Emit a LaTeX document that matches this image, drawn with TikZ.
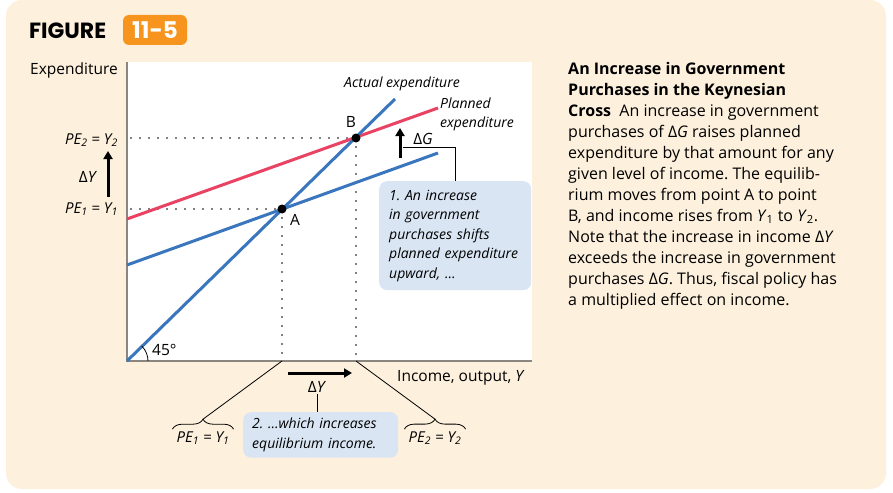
\documentclass[tikz,border=0pt]{standalone}
\usepackage{fontspec}
\setmainfont{Open Sans}
\newfontfamily\figfont{Poppins}
\usetikzlibrary{arrows.meta,decorations.pathreplacing}
\definecolor{cream}{RGB}{253,240,221}
\definecolor{figorange}{RGB}{247,148,29}
\definecolor{crossblue}{RGB}{58,118,189}
\definecolor{crossred}{RGB}{233,66,98}
\definecolor{notefill}{RGB}{217,229,243}
\definecolor{axisgrey}{RGB}{140,134,128}
\def\peeq#1{\textit{PE}\textsubscript{#1} = \textit{Y}\textsubscript{#1}}
\frenchspacing

\begin{document}
\begin{tikzpicture}[x=1pt,y=-1pt,
	curve/.style={line width=3pt},
	dots/.style={line width=1.7pt, dash pattern=on 0pt off 9pt, line cap=round},
	bigarrow/.style={line width=3pt, -{Triangle[length=8pt,width=9pt]}},
	leader/.style={line width=0.8pt},
	notebox/.style={fill=notefill, rounded corners=8pt, align=left, anchor=north west,
		font=\fontsize{14}{19.5}\selectfont\itshape},
	lbl/.style={font=\fontsize{15}{17}\selectfont\itshape, inner sep=1pt},
	axlbl/.style={font=\fontsize{15.5}{17}\selectfont, inner sep=1pt}]
		%%%%% START %%%%%
		\useasboundingbox (0,0) rectangle (893,492);
		\fill[cream, rounded corners=16pt] (6,0) rectangle (886,489);
		
		\node[font=\figfont\fontsize{22}{22}\selectfont\bfseries, anchor=west, inner sep=0pt] (figword) at (29,31) {FIGURE};
		\node[font=\figfont\fontsize{23}{23}\selectfont\bfseries, fill=figorange, text=white, rounded corners=6pt,
			minimum width=64pt, minimum height=30pt, inner sep=0pt] (fignum) at (155,30) {11-5};
		
		\fill[white] (127,62) rectangle (532,361);
		\coordinate (O) at (127,361);
		\coordinate (ytop) at (127,62);
		\coordinate (xend) at (532,361);
		\draw[axisgrey, line width=1.5pt] (ytop) -- (O) -- (xend);
		
		\coordinate (A) at (282,209);
		\coordinate (B) at (356,138);
		\coordinate (yA) at (131,209);
		\coordinate (yB) at (131,138);
		\coordinate (xA) at (282,361);
		\coordinate (xB) at (356,361);
		\draw[dots] (yB) -- (B);
		\draw[dots] (yA) -- (A);
		\draw[dots] (A) -- (xA);
		\draw[dots] (B) -- (xB);
		
		\coordinate (pe1start) at (127,265);
		\coordinate (pe1end) at (438,153);
		\coordinate (pe2start) at (127,219);
		\coordinate (pe2end) at (438,108);
		\coordinate (actualend) at (395,99);
		\draw[curve, crossblue] (pe1start) -- (pe1end);
		\draw[curve, crossred] (pe2start) -- (pe2end);
		\draw[curve, crossblue] (O) -- (actualend);
		\fill (A) circle (4.5);
		\fill (B) circle (4.5);
		
		\node[axlbl] (labA) at (295,220) {A};
		\node[axlbl] (labB) at (351,122) {B};
		\node[lbl, font=\fontsize{14}{17}\selectfont\itshape] (actual) at (402,84) {Actual expenditure};
		\node[lbl, anchor=west, align=left, font=\fontsize{14}{19}\selectfont\itshape] (planned) at (439,114) {Planned\\expenditure};
		
		\draw[line width=0.8pt] (O) ++(21,0) arc (0:-45:21);
		\node[axlbl, anchor=west] (angle) at (151,350) {45°};
		
		%% left axis
		\node[axlbl, anchor=east] (yname) at (119,70) {Expenditure};
		\node[lbl, anchor=east] (pe2left) at (119,140) {\peeq{2}};
		\node[lbl, anchor=east] (pe1left) at (119,209) {\peeq{1}};
		\node[axlbl] (dYleft) at (88,177) {Δ\textit{Y}};
		\coordinate (dYlow) at (108,197);
		\coordinate (dYhigh) at (108,151);
		\draw[bigarrow] (dYlow) -- (dYhigh);
		
		%% shift of planned expenditure
		\coordinate (dGlow) at (400,158);
		\coordinate (dGhigh) at (400,128);
		\draw[bigarrow] (dGlow) -- (dGhigh);
		\node[axlbl] (dG) at (423,139) {Δ\textit{G}};
		\coordinate (dGfoot) at (403,147);
		\node[notebox, text width=132pt, minimum height=109pt, inner xsep=10pt, inner ysep=7pt] (note1) at (379,181)
			{1. An increase\\in government\\purchases shifts\\planned expenditure\\upward, \dots};
		\draw[leader] (dGfoot) -| (note1.north);
		
		%% bottom axis
		\node[axlbl, anchor=west] (xname) at (396,378) {Income, output, \textit{Y}};
		\coordinate (dYleftend) at (288,373);
		\coordinate (dYrightend) at (352,373);
		\draw[bigarrow] (dYleftend) -- (dYrightend);
		\node[axlbl] (dYbottom) at (317,387) {Δ\textit{Y}};
		\node[notebox, text width=137pt, inner xsep=9pt, inner ysep=6pt] (note2) at (243,412)
			{2. \dots which increases\\equilibrium income.};
		\draw[leader] (dYbottom.south) -- (dYbottom.south |- note2.north);
		
		\node[lbl] (pe1bottom) at (203,438) {\peeq{1}};
		\node[lbl] (pe2bottom) at (435,438) {\peeq{2}};
		\draw[leader, decorate, decoration={brace, amplitude=10pt}] ([xshift=-3pt,yshift=1pt]pe1bottom.north west) -- ([xshift=3pt,yshift=1pt]pe1bottom.north east);
		\draw[leader, decorate, decoration={brace, amplitude=10pt}] ([xshift=-3pt,yshift=1pt]pe2bottom.north west) -- ([xshift=3pt,yshift=1pt]pe2bottom.north east);
		\draw[leader] (xA) -- ([yshift=11pt]pe1bottom.north);
		\draw[leader] (xB) -- ([yshift=11pt]pe2bottom.north);
		
		%% caption
		\node[anchor=north west, align=left, inner sep=0pt, font=\fontsize{16}{21}\selectfont] (caption) at (568,62)
			{\textbf{An Increase in Government}\\
			\textbf{Purchases in the Keynesian}\\
			\textbf{Cross}\ \ An increase in government\\
			purchases of Δ\textit{G} raises planned\\
			expenditure by that amount for any\\
			given level of income. The equilib-\\
			rium moves from point A to point\\
			B, and income rises from \textit{Y}\textsubscript{1} to \textit{Y}\textsubscript{2}.\\
			Note that the increase in income Δ\textit{Y}\\
			exceeds the increase in government\\
			purchases Δ\textit{G}. Thus, fiscal policy has\\
			a multiplied effect on income.};
		%%%%% END %%%%%
\end{tikzpicture}
\end{document}
